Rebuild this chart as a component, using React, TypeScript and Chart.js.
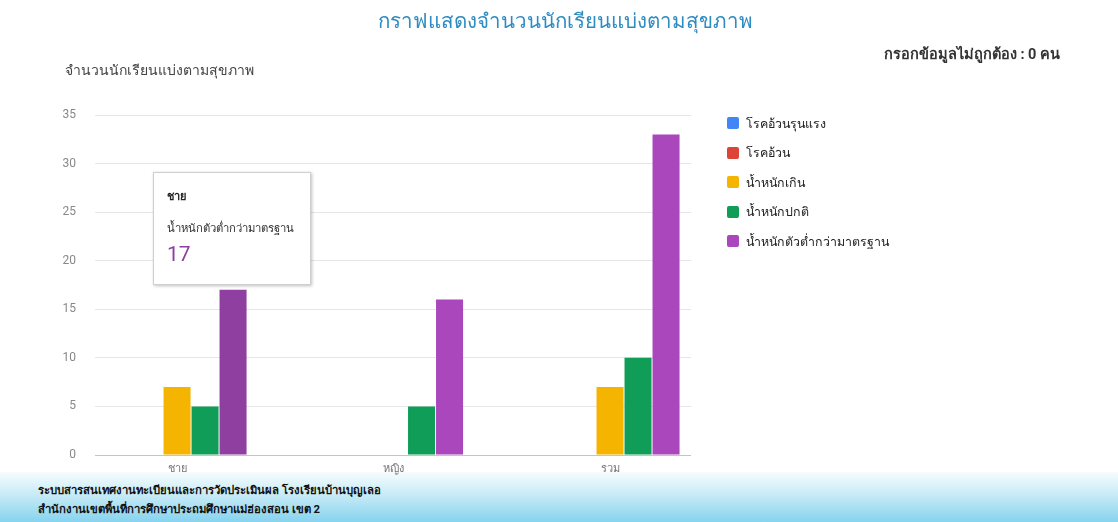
import React, { useEffect, useRef, useState } from "react";
import { Chart, registerables } from "chart.js";

Chart.register(...registerables);

const categories = ["ชาย", "หญิง", "รวม"];
const seriesNames = [
  "โรคอ้วนรุนแรง",
  "โรคอ้วน",
  "น้ำหนักเกิน",
  "น้ำหนักปกติ",
  "น้ำหนักตัวต่ำกว่ามาตรฐาน",
];
const seriesColors = ["#4285f4", "#db4437", "#f4b400", "#0f9d58", "#ab47bc"];
const severeObese = [0, 0, 0];
const obese = [0, 0, 0];
const overweight = [7, 0, 7];
const normalWeight = [5, 5, 10];
const underweight = [17, 16, 33];
const yMax = 35;
const yStep = 5;

const FONT = "Roboto, Arial, 'Noto Sans', sans-serif";

export default function App() {
  const canvasRef = useRef<HTMLCanvasElement | null>(null);
  const [tip, setTip] = useState<{ x: number; y: number } | null>(null);

  useEffect(() => {
    const canvas = canvasRef.current;
    if (!canvas) return;
    const values = [severeObese, obese, overweight, normalWeight, underweight];
    const chart = new Chart(canvas, {
      type: "bar",
      data: {
        labels: categories,
        datasets: seriesNames.map((name, i) => ({
          label: name,
          data: values[i],
          backgroundColor:
            i === 4
              ? values[i].map((_, j) => (j === 0 ? "#8e3fa0" : seriesColors[i]))
              : seriesColors[i],
          borderWidth: 0,
          categoryPercentage: 0.6467,
          barPercentage: 0.965,
        })),
      },
      options: {
        responsive: false,
        animation: false,
        devicePixelRatio: 1,
        layout: { padding: { left: 0, right: 427, top: 115, bottom: 0 } },
        plugins: {
          legend: { display: false },
          tooltip: { enabled: false },
          title: { display: false },
        },
        scales: {
          x: {
            grid: { display: false, drawTicks: false },
            border: { display: false },
            ticks: {
              color: "#777",
              padding: 8,
              font: { family: FONT, size: 11 },
              maxRotation: 0,
            },
            afterBuildTicks: (s: any) => {
              s._startValue = -0.379;
              s._valueRange = 2.753;
            },
            afterFit: (s: any) => {
              s.height = 67;
            },
          },
          y: {
            min: 0,
            max: yMax,
            ticks: {
              stepSize: yStep,
              color: "#888",
              padding: 19,
              font: { family: FONT, size: 12 },
            },
            grid: {
              drawTicks: false,
              color: (ctx: any) => (ctx.tick && ctx.tick.value === 0 ? "#c4c4c4" : "#e6e6e6"),
            },
            border: { display: false },
            afterFit: (s: any) => {
              s.width = 95;
            },
          },
        },
      },
    });
    const el: any = chart.getDatasetMeta(4).data[0];
    if (el) setTip({ x: el.x, y: el.y });
    return () => chart.destroy();
  }, []);

  return (
    <div
      style={{
        position: "fixed",
        left: 0,
        top: 0,
        width: 1118,
        height: 522,
        overflow: "hidden",
        background: "#fff",
        fontFamily: FONT,
      }}
    >
      <div
        style={{
          position: "absolute",
          left: 0,
          top: 472,
          width: 1118,
          height: 50,
          background:
            "linear-gradient(to bottom, #f6fcfe 0%, #c8ebf7 45%, #86d3ee 100%)",
          zIndex: 0,
        }}
      >
        <div
          style={{
            position: "absolute",
            left: 38,
            top: 9,
            fontSize: 11.3,
            fontWeight: "bold",
            lineHeight: "19px",
            color: "#111",
            whiteSpace: "nowrap",
          }}
        >
          <div>ระบบสารสนเทศงานทะเบียนและการวัดประเมินผล โรงเรียนบ้านบุญเลอ</div>
          <div>สำนักงานเขตพื้นที่การศึกษาประถมศึกษาแม่ฮ่องสอน เขต 2</div>
        </div>
      </div>

      <div
        style={{
          position: "absolute",
          left: 0,
          top: 7,
          width: 1130,
          textAlign: "center",
          fontSize: 20.5,
          lineHeight: "28px",
          color: "#2f8cc2",
          zIndex: 2,
        }}
      >
        กราฟแสดงจำนวนนักเรียนแบ่งตามสุขภาพ
      </div>
      <div
        style={{
          position: "absolute",
          right: 58,
          top: 45,
          fontSize: 14.5,
          fontWeight: "bold",
          lineHeight: "20px",
          color: "#333",
          zIndex: 2,
        }}
      >
        กรอกข้อมูลไม่ถูกต้อง : 0 คน
      </div>
      <div
        style={{
          position: "absolute",
          left: 65,
          top: 61,
          fontSize: 14,
          lineHeight: "18px",
          color: "#444",
          zIndex: 2,
        }}
      >
        จำนวนนักเรียนแบ่งตามสุขภาพ
      </div>

      <canvas
        ref={canvasRef}
        width={1118}
        height={522}
        style={{ position: "absolute", left: 0, top: 0, width: 1118, height: 522, zIndex: 1 }}
      />

      <div style={{ position: "absolute", left: 727, top: 114, zIndex: 2 }}>
        {seriesNames.map((name, i) => (
          <div
            key={name}
            style={{
              position: "absolute",
              left: 0,
              top: i * 29.5,
              height: 18,
              display: "flex",
              alignItems: "center",
              whiteSpace: "nowrap",
            }}
          >
            <span
              style={{
                display: "inline-block",
                width: 12,
                height: 12,
                borderRadius: 2,
                background: seriesColors[i],
                marginRight: 7,
              }}
            />
            <span style={{ fontSize: 12.4, color: "#222" }}>{name}</span>
          </div>
        ))}
      </div>

      {tip && (
        <div
          style={{
            position: "absolute",
            left: tip.x - 80,
            top: tip.y - 118,
            width: 156,
            height: 111,
            background: "#fff",
            border: "1px solid #cfcfcf",
            boxShadow: "1px 1px 3px rgba(0,0,0,0.25)",
            zIndex: 3,
          }}
        >
          <div
            style={{
              position: "absolute",
              left: 13,
              top: 17,
              fontSize: 11,
              fontWeight: "bold",
              lineHeight: "14px",
              color: "#222",
            }}
          >
            {categories[0]}
          </div>
          <div
            style={{
              position: "absolute",
              left: 13,
              top: 48,
              fontSize: 11.3,
              lineHeight: "16px",
              color: "#333",
              whiteSpace: "nowrap",
            }}
          >
            {seriesNames[4]}
          </div>
          <div
            style={{
              position: "absolute",
              left: 13,
              top: 68,
              fontSize: 21,
              lineHeight: "26px",
              color: "#8e3fa0",
            }}
          >
            {underweight[0]}
          </div>
        </div>
      )}
    </div>
  );
}
